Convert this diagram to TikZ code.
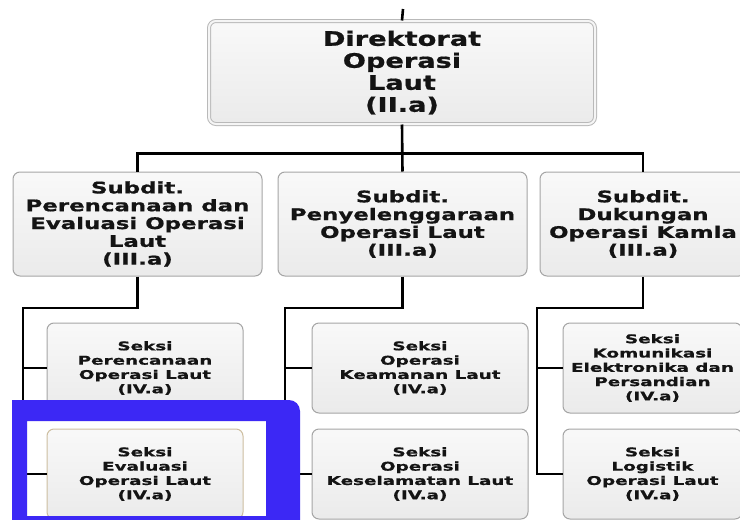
\documentclass[tikz,border=0pt]{standalone}
\usepackage{fontspec}
\newfontfamily\dirfont{DejaVu Sans}[FakeStretch=1.36, FakeBold=0.8]
\newfontfamily\subfont{DejaVu Sans}[FakeStretch=1.43, FakeBold=0.8]
\newfontfamily\sekfont{DejaVu Sans}[FakeStretch=1.53, FakeBold=0.8]
\definecolor{frameblue}{RGB}{60,40,245}
\definecolor{boxline}{RGB}{165,165,165}
\definecolor{txt}{RGB}{20,20,20}
\tikzset{
  orgbox/.style={draw=boxline, line width=1pt, rounded corners=7pt,
    top color=white!95!gray, bottom color=gray!16, text=txt, align=center,
    inner sep=0pt},
  dirbox/.style={orgbox, minimum width=386pt, minimum height=103pt,
    double=gray!8, double distance=2pt, draw=gray!55,
    font=\dirfont\bfseries\fontsize{20}{22}\selectfont},
  subbox/.style={orgbox, minimum height=104pt,
    font=\subfont\bfseries\fontsize{16}{17.8}\selectfont},
  sekbox/.style={orgbox, minimum height=90pt,
    font=\sekfont\bfseries\fontsize{12}{14.3}\selectfont},
  link/.style={draw=black, line width=2.6pt}
}
\begin{document}
\begin{tikzpicture}[x=1pt,y=-1pt]
\useasboundingbox (0,0) rectangle (740,520);
\clip (0,0) rectangle (740,520);
\fill[white] (0,0) rectangle (740,520);

% top coordinate
\coordinate (top) at (403,9);

% nodes
\node[dirbox] (dir) at (402,72.5) {Direktorat\\Operasi\\Laut\\(II.a)};

\node[subbox, minimum width=249pt] (s1) at (137.5,224) {Subdit.\\Perencanaan dan\\Evaluasi Operasi\\Laut\\(III.a)};
\node[subbox, minimum width=249pt] (s2) at (402.5,224) {Subdit.\\Penyelenggaraan\\Operasi Laut\\(III.a)};
\node[subbox, minimum width=206pt] (s3) at (643,224) {Subdit.\\Dukungan\\Operasi Kamla\\(III.a)};

\coordinate (j1) at (23,308);
\coordinate (j2) at (285,308);
\coordinate (j3) at (537,308);

% connectors
\draw[link] (top) -- (dir.north);
\draw[link] (dir.south) -- (s2.north);
\draw[link] (dir.south) ++(0,29) coordinate (hb) -| (s1.north);
\draw[link] (hb) -| (s3.north);

\node[sekbox, minimum width=196pt] (p1) at (145,368) {Seksi\\Perencanaan\\Operasi Laut\\(IV.a)};
\node[sekbox, minimum width=196pt, draw={rgb,255:red,205;green,190;blue,160}] (p2) at (145,474) {Seksi\\Evaluasi\\Operasi Laut\\(IV.a)};
\node[sekbox, minimum width=216pt] (m1) at (420,368) {Seksi\\Operasi\\Keamanan Laut\\(IV.a)};
\node[sekbox, minimum width=216pt] (m2) at (420,474) {Seksi\\Operasi\\Keselamatan Laut\\(IV.a)};
\node[sekbox, minimum width=179pt] (r1) at (652.5,368) {Seksi\\Komunikasi\\Elektronika dan\\Persandian\\(IV.a)};
\node[sekbox, minimum width=179pt] (r2) at (652.5,474) {Seksi\\Logistik\\Operasi Laut\\(IV.a)};

\draw[link] (s1.south) |- (j1) |- (p2.west);
\draw[link] (j1 |- p1.west) -- (p1.west);
\draw[link] (s2.south) |- (j2) |- (m2.west);
\draw[link] (j2 |- m1.west) -- (m1.west);
\draw[link] (s3.south) |- (j3) |- (r2.west);
\draw[link] (j3 |- r1.west) -- (r1.west);

% blue highlight frame
\fill[frameblue, even odd rule]
  (12,522) -- (12,400) [rounded corners=11pt] -- (300,400) [sharp corners] -- (300,522) -- cycle
  (27,421) rectangle (266,516);
\end{tikzpicture}
\end{document}
